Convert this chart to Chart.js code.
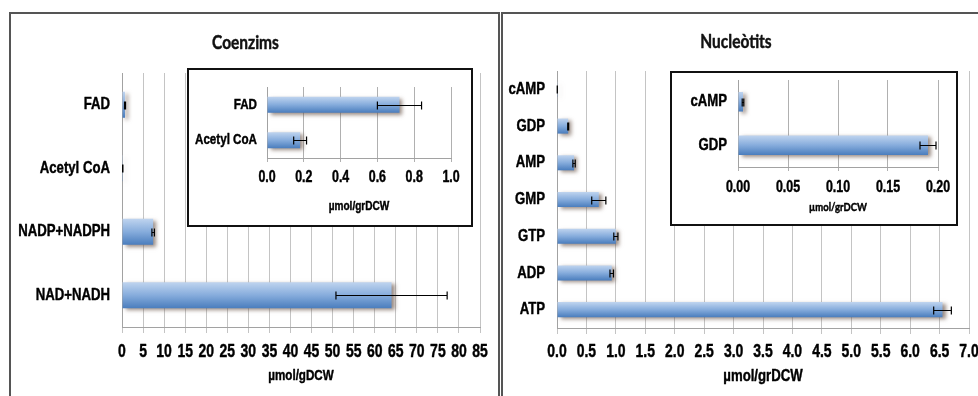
<!DOCTYPE html>
<html>
<head>
<meta charset="utf-8">
<script src="https://cdn.jsdelivr.net/npm/chart.js@4.4.1/dist/chart.umd.min.js"></script>
<style>
  html, body { margin: 0; padding: 0; background: #fff; }
  body { width: 978px; height: 396px; overflow: hidden; position: relative; }
  .panel { position: absolute; box-sizing: border-box; border: 2px solid #555; border-bottom: none; }
  #panelLeft { left: 9px; top: 12px; width: 491px; height: 400px; }
  #panelRight { left: 501px; top: 12px; width: 500px; height: 400px; }
  .inset { position: absolute; box-sizing: border-box; background: #fff; border: 2px solid #111; }
  #insetLeft { left: 187px; top: 68px; width: 286px; height: 159px; }
  #insetRight { left: 670px; top: 71px; width: 288px; height: 155px; }
  canvas { position: absolute; }
  #coenzChart { left: 11px; top: 28px; }
  #nucChart { left: 503px; top: 28px; }
  #coenzInset { left: 189px; top: 70px; }
  #nucInset { left: 672px; top: 73px; }
</style>
</head>
<body>
<div class="panel" id="panelLeft"></div>
<div class="panel" id="panelRight"></div>
<canvas id="coenzChart" width="488" height="357"></canvas>
<canvas id="nucChart" width="486" height="359"></canvas>
<div class="inset" id="insetLeft"></div>
<div class="inset" id="insetRight"></div>
<canvas id="coenzInset" width="280" height="144"></canvas>
<canvas id="nucInset" width="284" height="141"></canvas>

<script>
// Coenzymes (µmol per g dry cell weight), top to bottom
const coenzymeLabels = ['FAD', 'Acetyl CoA', 'NADP+NADPH', 'NAD+NADH'];
const coenzymeValues = [0.72, 0.18, 7.4, 64.0];
const coenzymeErrors = [0.12, 0.035, 0.3, 13.2];
const coenzymeTicks = [0, 5, 10, 15, 20, 25, 30, 35, 40, 45, 50, 55, 60, 65, 70, 75, 80, 85];
const coenzymeInsetLabels = ['FAD', 'Acetyl CoA'];
const coenzymeInsetTicks = [0, 0.2, 0.4, 0.6, 0.8, 1.0];

// Nucleotides (µmol per g dry cell weight), top to bottom
const nucleotideLabels = ['cAMP', 'GDP', 'AMP', 'GMP', 'GTP', 'ADP', 'ATP'];
const nucleotideValues = [0.005, 0.19, 0.29, 0.71, 1.0, 0.93, 6.55];
const nucleotideErrors = [0.0008, 0.008, 0.02, 0.12, 0.035, 0.03, 0.15];
const nucleotideTicks = [0, 0.5, 1.0, 1.5, 2.0, 2.5, 3.0, 3.5, 4.0, 4.5, 5.0, 5.5, 6.0, 6.5, 7.0];
const nucleotideInsetLabels = ['cAMP', 'GDP'];
const nucleotideInsetTicks = [0, 0.05, 0.10, 0.15, 0.20];

const NARROW = "'Liberation Sans', Arial, sans-serif";
const HUMANIST = "Lato, sans-serif";

// Horizontal compression per family, giving a narrow cut of each face
const TEXT_SCALE = [['Liberation Sans', 0.775], ['Lato', 0.86]];
function scaleFor(font) {
  for (const [f, k] of TEXT_SCALE) if (font.indexOf(f) !== -1) return k;
  return 1;
}
function condenseText(canvas) {
  const ctx = canvas.getContext('2d');
  const fill = ctx.fillText;
  const stroke = ctx.strokeText;
  const measure = ctx.measureText;
  ctx.fillText = function (t, x, y, mw) {
    const k = scaleFor(this.font);
    if (k === 1) return mw === undefined ? fill.call(this, t, x, y) : fill.call(this, t, x, y, mw);
    this.save();
    this.translate(x, y);
    this.scale(k, 1);
    if (mw === undefined) fill.call(this, t, 0, 0); else fill.call(this, t, 0, 0, mw / k);
    // slightly heavier strokes for the bold labels
    if (this.font.indexOf('bold') !== -1) {
      this.strokeStyle = this.fillStyle;
      this.lineWidth = 0.45;
      this.lineJoin = 'round';
      stroke.call(this, t, 0, 0);
    }
    this.restore();
  };
  ctx.measureText = function (t) {
    const m = measure.call(this, t);
    const k = scaleFor(this.font);
    if (k === 1) return m;
    return {
      width: m.width * k,
      actualBoundingBoxLeft: m.actualBoundingBoxLeft * k,
      actualBoundingBoxRight: m.actualBoundingBoxRight * k,
      actualBoundingBoxAscent: m.actualBoundingBoxAscent,
      actualBoundingBoxDescent: m.actualBoundingBoxDescent,
      fontBoundingBoxAscent: m.fontBoundingBoxAscent,
      fontBoundingBoxDescent: m.fontBoundingBoxDescent
    };
  };
}

function pick(labels, allLabels, arr) {
  return labels.map(l => arr[allLabels.indexOf(l)]);
}

// Vertical blue gloss for each bar, sized from the category scale
function barFill(c) {
  const chart = c.chart;
  const y = chart.scales && chart.scales.y;
  if (!y || !chart.chartArea) return '#7ea6d8';
  const n = chart.data.labels.length;
  const step = n > 1 ? Math.abs(y.getPixelForValue(1) - y.getPixelForValue(0)) : chart.chartArea.height;
  const cy = y.getPixelForValue(c.dataIndex);
  const h = step * c.dataset.barPercentage / 2;
  const g = chart.ctx.createLinearGradient(0, cy - h, 0, cy + h);
  g.addColorStop(0, '#bfd4ef');
  g.addColorStop(0.5, '#86acdc');
  g.addColorStop(1, '#4a7dbd');
  return g;
}

const barShadow = {
  id: 'barShadow',
  beforeDatasetsDraw(chart) {
    const ctx = chart.ctx;
    ctx.save();
    ctx.shadowColor = 'rgba(100, 78, 66, 0.65)';
    ctx.shadowBlur = 4;
    ctx.shadowOffsetX = 3;
    ctx.shadowOffsetY = 2;
  },
  afterDatasetsDraw(chart) {
    chart.ctx.restore();
  }
};

const errorBars = {
  id: 'errorBars',
  afterDatasetsDraw(chart, args, opts) {
    const {ctx, scales: {x, y}} = chart;
    chart.data.datasets.forEach(ds => {
      if (!ds.errors) return;
      ctx.save();
      ctx.strokeStyle = '#000';
      ctx.lineWidth = opts.width;
      const c = opts.cap / 2;
      ds.data.forEach((v, i) => {
        const e = ds.errors[i];
        const py = Math.round(y.getPixelForValue(i)) + 0.5;
        const x0 = x.getPixelForValue(v - e);
        const x1 = x.getPixelForValue(v + e);
        ctx.beginPath();
        ctx.moveTo(x0, py); ctx.lineTo(x1, py);
        ctx.moveTo(x0, py - c); ctx.lineTo(x0, py + c);
        ctx.moveTo(x1, py - c); ctx.lineTo(x1, py + c);
        ctx.stroke();
      });
      ctx.restore();
    });
  }
};

function makeChart(id, o) {
  const canvas = document.getElementById(id);
  condenseText(canvas);
  return new Chart(canvas, {
    type: 'bar',
    data: {
      labels: o.labels,
      datasets: [{
        data: o.values,
        errors: o.errors,
        backgroundColor: barFill,
        borderWidth: 0,
        barPercentage: o.barPct,
        categoryPercentage: 1
      }]
    },
    options: {
      indexAxis: 'y',
      responsive: false,
      animation: false,
      devicePixelRatio: 1,
      layout: { padding: o.padding },
      scales: {
        x: {
          type: 'linear',
          min: o.ticks[0],
          max: o.ticks[o.ticks.length - 1],
          grid: { color: o.gridColor, lineWidth: 1, tickLength: o.tickLen, drawTicks: true },
          border: { color: o.axisColor, width: 1 },
          ticks: {
            autoSkip: false, maxRotation: 0, minRotation: 0,
            padding: o.tickPad, color: '#000',
            font: o.tickFont,
            callback: v => o.fmt(v)
          },
          afterBuildTicks: s => { s.ticks = o.ticks.map(v => ({ value: v })); },
          title: { display: true, text: o.axisTitle, color: '#000', font: o.axisTitleFont, padding: 0 },
          afterFit: s => { s.height = o.xHeight; s.paddingLeft = 0; s.paddingRight = 0; }
        },
        y: {
          grid: { display: false, drawTicks: false, tickLength: 0 },
          border: { display: true, color: o.axisColor, width: 1 },
          ticks: { padding: o.labelPad, color: '#000', font: o.labelFont },
          afterFit: s => { s.width = o.yWidth; s.paddingTop = 0; s.paddingBottom = 0; }
        }
      },
      plugins: {
        legend: { display: false },
        tooltip: { enabled: false },
        title: o.heading ? {
          display: true, text: o.heading, color: '#111',
          font: { family: HUMANIST, size: 18, weight: 'bold' },
          padding: o.headingPad
        } : { display: false },
        errorBars: { width: 1.2, cap: o.cap }
      }
    },
    plugins: [barShadow, errorBars]
  });
}

// Coenzims
makeChart('coenzChart', {
  labels: coenzymeLabels, values: coenzymeValues, errors: coenzymeErrors,
  ticks: coenzymeTicks, fmt: v => String(Math.round(v)),
  barPct: 0.41, yWidth: 111, xHeight: 58,
  padding: { left: 0, right: 19, top: 0, bottom: 0 },
  gridColor: '#c4c4c4', axisColor: '#a2a2a2', tickLen: 6, tickPad: 8, labelPad: 12,
  tickFont: { family: NARROW, size: 18, weight: 'bold' },
  labelFont: { family: NARROW, size: 17, weight: 'bold' },
  axisTitle: 'µmol/gDCW', axisTitleFont: { family: NARROW, size: 15, weight: 'bold' },
  heading: 'Coenzims', headingPad: { top: 4.2, bottom: 19.2 }, cap: 8
});

makeChart('coenzInset', {
  labels: coenzymeInsetLabels,
  values: pick(coenzymeInsetLabels, coenzymeLabels, coenzymeValues),
  errors: pick(coenzymeInsetLabels, coenzymeLabels, coenzymeErrors),
  ticks: coenzymeInsetTicks, fmt: v => v.toFixed(1),
  barPct: 0.45, yWidth: 78, xHeight: 56,
  padding: { left: 0, right: 18, top: 17, bottom: 0 },
  gridColor: '#b0b0b0', axisColor: '#a2a2a2', tickLen: 4, tickPad: 6, labelPad: 10,
  tickFont: { family: NARROW, size: 16, weight: 'bold' },
  labelFont: { family: NARROW, size: 15, weight: 'bold' },
  axisTitle: 'µmol/grDCW', axisTitleFont: { family: NARROW, size: 13, weight: 'bold' },
  heading: null, cap: 8
});

// Nucleòtits
makeChart('nucChart', {
  labels: nucleotideLabels, values: nucleotideValues, errors: nucleotideErrors,
  ticks: nucleotideTicks, fmt: v => v.toFixed(1),
  barPct: 0.41, yWidth: 54, xHeight: 59,
  padding: { left: 0, right: 20, top: 0, bottom: 0 },
  gridColor: '#c4c4c4', axisColor: '#a2a2a2', tickLen: 6, tickPad: 7, labelPad: 12,
  tickFont: { family: NARROW, size: 18, weight: 'bold' },
  labelFont: { family: NARROW, size: 17, weight: 'bold' },
  axisTitle: 'µmol/grDCW', axisTitleFont: { family: NARROW, size: 17, weight: 'bold' },
  heading: 'Nucleòtits', headingPad: { top: 3.2, bottom: 18.2 }, cap: 8
});

makeChart('nucInset', {
  labels: nucleotideInsetLabels,
  values: pick(nucleotideInsetLabels, nucleotideLabels, nucleotideValues),
  errors: pick(nucleotideInsetLabels, nucleotideLabels, nucleotideErrors),
  ticks: nucleotideInsetTicks, fmt: v => v.toFixed(2),
  barPct: 0.45, yWidth: 66, xHeight: 47,
  padding: { left: 0, right: 18, top: 7, bottom: 0 },
  gridColor: '#b0b0b0', axisColor: '#a2a2a2', tickLen: 4, tickPad: 7, labelPad: 11,
  tickFont: { family: NARROW, size: 16, weight: 'bold' },
  labelFont: { family: NARROW, size: 17, weight: 'bold' },
  axisTitle: 'µmol/grDCW', axisTitleFont: { family: HUMANIST, size: 11, weight: 'bold' },
  heading: null, cap: 8
});
</script>
</body>
</html>
